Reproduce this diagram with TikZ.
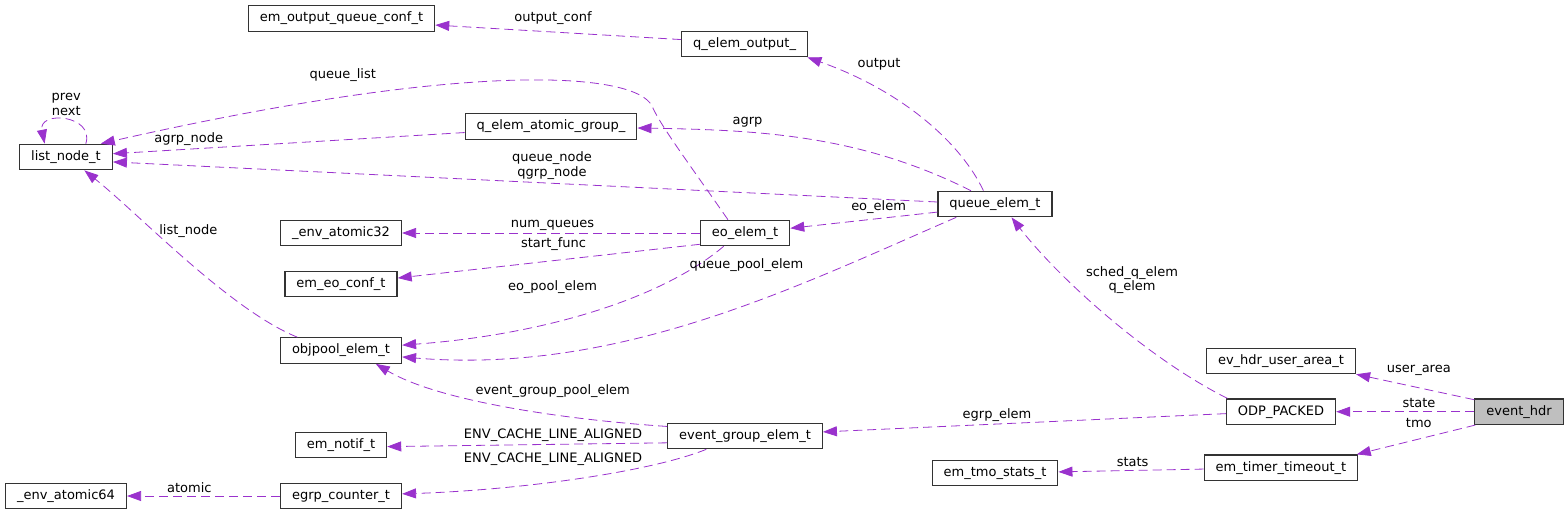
\documentclass[tikz,border=0pt]{standalone}
\usepackage{fontspec}
\setmainfont{DejaVu Sans}
\usetikzlibrary{arrows.meta}
\definecolor{orchid}{HTML}{9A32CD}
\definecolor{boxline}{HTML}{333333}
\tikzset{cls/.style = {shape = rectangle, draw = boxline, line width = 1.2pt, inner xsep = 11.5pt, inner ysep = 0pt, minimum height = 25.5pt, font = \fontsize{13}{15}\selectfont}}
\tikzset{member/.style = {draw = orchid, line width = 0.8pt, dash pattern = on 9pt off 5pt, -{Triangle[length = 14pt, width = 10pt]}}}
\tikzset{lbl/.style = {align = center, inner sep = 0pt, font = \fontsize{13}{14.5}\selectfont}}

\begin{document}
\begin{tikzpicture}[x = 1pt, y = -1pt]
	\useasboundingbox (0, 0) rectangle (1568, 515);

	% classes
	\node[cls] (outconf) at (341.5, 18.5) {em\_output\_queue\_conf\_t};
	\node[cls] (qout) at (744.6, 44) {q\_elem\_output\_};
	\node[cls] (listnode) at (66, 157) {list\_node\_t};
	\node[cls] (qagrp) at (551, 126.5) {q\_elem\_atomic\_group\_};
	\node[cls] (qelem) at (995, 204) {queue\_elem\_t};
	\node[cls] (atom32) at (341, 233) {\_env\_atomic32};
	\node[cls] (eoelem) at (745, 233) {eo\_elem\_t};
	\node[cls] (eoconf) at (341, 284) {em\_eo\_conf\_t};
	\node[cls] (objpool) at (341, 350.5) {objpool\_elem\_t};
	\node[cls] (notif) at (341, 445) {em\_notif\_t};
	\node[cls] (egrp) at (745, 436) {event\_group\_elem\_t};
	\node[cls] (atom64) at (66, 496) {\_env\_atomic64};
	\node[cls] (ectr) at (341, 496) {egrp\_counter\_t};
	\node[cls] (tmostats) at (995, 473) {em\_tmo\_stats\_t};
	\node[cls] (uarea) at (1281, 361) {ev\_hdr\_user\_area\_t};
	\node[cls] (odp) at (1281, 411.7) {ODP\_PACKED};
	\node[cls] (ttmo) at (1281, 467.7) {em\_timer\_timeout\_t};
	\node[cls, fill = black!25] (hdr) at (1519, 411.7) {event\_hdr};

	% members
	\draw[member] (qout.176) -- (outconf.-4);
	\draw[member] (qelem.131) .. controls (962, 145) and (905, 92) .. (qout.-12);
	\draw[member] (eoelem.142) .. controls (690, 165) and (660, 125) .. (652, 106)
		.. controls (635, 72) and (470, 60) .. (listnode.21);
	\draw[member] (qagrp.184) -- (listnode.4);
	\draw[member] (qelem.178) -- (listnode.-6);
	\draw[member] (qelem.151) .. controls (860, 135) and (760, 130) .. (qagrp.-1);
	\draw[member] (qelem.188) -- (eoelem.6);
	\draw[member] (eoelem.west) -- (atom32.east);
	\draw[member] (eoelem.194) -- (eoconf.6);
	\draw[member] (eoelem.212) .. controls (660, 300) and (540, 335) .. (objpool.5);
	\draw[member] (qelem.199) .. controls (800, 285) and (620, 375) .. (objpool.-6);
	\draw[member] (objpool.163) .. controls (230, 310) and (140, 215) .. (listnode.-36);
	\draw[member] (egrp.173) .. controls (570, 420) and (440, 402) .. (objpool.-21);
	\draw[member] (egrp.185) -- (notif.-2);
	\draw[member] (egrp.199) .. controls (650, 472) and (520, 490) .. (ectr.2);
	\draw[member] (ectr.west) -- (atom64.east);
	\draw[member] (odp.166) .. controls (1150, 360) and (1060, 280) .. (qelem.-39);
	\draw[member] (odp.182) -- (egrp.3);
	\draw[member] (ttmo.181) -- (tmostats.1);
	\draw[member] (hdr.165) -- (uarea.-10);
	\draw[member] (hdr.west) -- (odp.east);
	\draw[member] (hdr.197) -- (ttmo.10);
	\draw[member] (listnode.34) .. controls (95, 115) and (38, 110) .. (listnode.148);

	% member names
	\node[lbl] (l-outconf) at (553, 18.3) {output\_conf};
	\node[lbl] (l-output) at (879, 64.3) {output};
	\node[lbl] (l-qlist) at (342.7, 75) {queue\_list};
	\node[lbl] (l-agrp) at (747.5, 122.7) {agrp};
	\node[lbl] (l-agrpnode) at (188.7, 139.3) {agrp\_node};
	\node[lbl] (l-qnode) at (552, 165.7) {queue\_node\\qgrp\_node};
	\node[lbl] (l-eoelem) at (878.6, 207.3) {eo\_elem};
	\node[lbl] (l-numq) at (552.5, 225) {num\_queues};
	\node[lbl] (l-start) at (553.6, 244.3) {start\_func};
	\node[lbl] (l-listnode) at (188.3, 231) {list\_node};
	\node[lbl] (l-eopool) at (552.5, 286.7) {eo\_pool\_elem};
	\node[lbl] (l-qpool) at (746.4, 264.7) {queue\_pool\_elem};
	\node[lbl] (l-egpool) at (552.7, 390.7) {event\_group\_pool\_elem};
	\node[lbl] (l-notif) at (553, 435.3) {ENV\_CACHE\_LINE\_ALIGNED};
	\node[lbl] (l-ectr) at (553, 459.3) {ENV\_CACHE\_LINE\_ALIGNED};
	\node[lbl] (l-atomic) at (189.3, 487.7) {atomic};
	\node[lbl] (l-sched) at (1132, 280) {sched\_q\_elem\\q\_elem};
	\node[lbl] (l-egrpelem) at (997, 414.7) {egrp\_elem};
	\node[lbl] (l-stats) at (1132.6, 462.3) {stats};
	\node[lbl] (l-uarea) at (1418.8, 370.7) {user\_area};
	\node[lbl] (l-state) at (1419, 403.3) {state};
	\node[lbl] (l-tmo) at (1418.8, 423.3) {tmo};
	\node[lbl] (l-prev) at (66.2, 104.5) {prev\\next};
\end{tikzpicture}
\end{document}
